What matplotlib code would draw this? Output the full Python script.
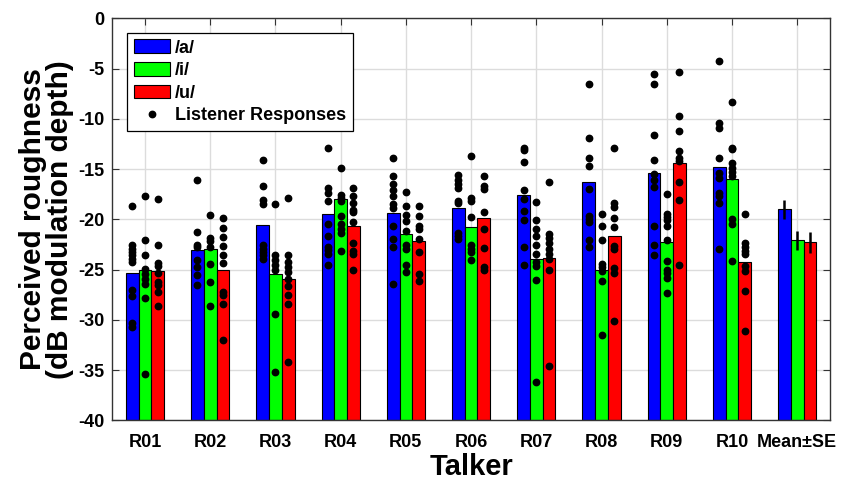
import matplotlib
matplotlib.use("Agg")
import matplotlib.pyplot as plt
from matplotlib.patches import Patch
from matplotlib.lines import Line2D
import numpy as np

plt.rcParams['font.family'] = ['Liberation Sans', 'DejaVu Sans']
plt.rcParams['font.weight'] = 'bold'
plt.rcParams['axes.unicode_minus'] = False

talkers = ['R01', 'R02', 'R03', 'R04', 'R05', 'R06', 'R07', 'R08', 'R09', 'R10', 'Mean\u00b1SE']
vowels = ['/a/', '/i/', '/u/']
colors = ['#0000ff', '#00ff00', '#ff0000']

mean_a = [-25.3, -23.0, -20.6, -19.5, -19.4, -18.9, -17.6, -16.3, -15.4, -14.8, -19.0]
mean_i = [-25.0, -22.9, -25.4, -18.0, -21.5, -20.8, -23.9, -25.0, -22.3, -16.0, -22.1]
mean_u = [-25.1, -25.0, -25.9, -20.7, -22.2, -19.9, -23.8, -21.7, -14.4, -24.2, -22.3]
se_mean = [0.95, 0.95, 1.0]

resp_a = [
    [-18.7, -22.5, -22.9, -23.2, -23.5, -23.9, -24.2, -27.0, -27.6, -30.3, -30.7],
    [-16.1, -21.3, -22.5, -22.7, -24.0, -24.7, -25.5, -26.5],
    [-14.1, -16.7, -18.1, -18.5, -22.5, -22.9, -23.2, -23.5, -23.9],
    [-12.9, -16.9, -17.4, -18.2, -20.5, -21.7, -22.7, -23.0, -23.4, -24.5],
    [-13.9, -15.7, -16.5, -17.1, -17.7, -18.5, -18.9, -20.7, -22.0, -22.7, -26.4],
    [-15.6, -16.1, -16.5, -16.9, -18.2, -18.4, -21.4, -21.7, -22.0],
    [-12.9, -13.1, -14.3, -17.1, -18.0, -19.2, -20.1, -22.7, -24.5],
    [-6.5, -11.9, -13.9, -14.7, -17.0, -19.7, -20.0, -20.3, -22.1, -22.7],
    [-5.5, -6.5, -11.6, -14.1, -15.5, -16.1, -16.8, -20.7, -22.5, -23.5],
    [-4.3, -10.4, -10.9, -13.9, -15.4, -15.9, -17.4, -17.7, -18.4, -22.9],
]
resp_i = [
    [-17.7, -22.1, -23.5, -24.9, -25.4, -25.9, -26.4, -27.8, -35.4],
    [-19.6, -21.9, -22.2, -22.7, -24.4, -26.2, -28.6],
    [-18.5, -23.5, -24.0, -24.5, -25.0, -29.4, -35.2],
    [-14.9, -17.6, -17.9, -18.2, -19.7, -20.5, -21.0, -21.4, -23.1],
    [-17.3, -18.7, -19.6, -20.2, -21.2, -22.5, -22.9, -24.5, -25.2],
    [-13.7, -17.9, -18.2, -19.8, -22.5, -22.9, -23.2, -24.0],
    [-18.3, -20.1, -21.0, -21.7, -22.5, -23.4, -24.2, -24.6, -26.0, -36.2],
    [-19.5, -20.7, -22.1, -24.4, -24.7, -25.1, -26.1, -31.5],
    [-17.5, -19.5, -19.8, -20.1, -20.7, -22.1, -24.1, -25.0, -25.3, -25.8, -27.3],
    [-8.3, -12.9, -13.0, -14.4, -14.9, -15.3, -15.7, -20.0, -20.5, -24.1],
]
resp_u = [
    [-18.0, -22.5, -24.3, -24.6, -25.3, -26.2, -26.5, -27.2, -28.6],
    [-19.9, -20.9, -21.8, -22.6, -23.5, -24.3, -27.2, -27.5, -28.4, -32.0],
    [-17.9, -23.5, -24.2, -24.7, -25.2, -25.9, -26.6, -27.5, -28.4, -34.2],
    [-16.9, -17.7, -18.4, -19.1, -19.3, -20.3, -22.4, -23.1, -23.4, -25.0],
    [-18.7, -19.7, -20.7, -21.0, -22.0, -23.2, -25.4, -26.1],
    [-15.7, -16.7, -17.0, -19.3, -21.0, -22.8, -24.7, -25.0],
    [-16.3, -21.5, -21.9, -22.4, -22.9, -23.4, -23.9, -25.0, -34.6],
    [-12.9, -18.4, -18.8, -19.9, -20.8, -22.6, -22.9, -24.8, -25.3, -30.1],
    [-5.3, -9.7, -11.2, -13.2, -13.9, -14.2, -16.3, -18.1, -24.5],
    [-19.5, -22.4, -22.7, -23.1, -23.4, -24.6, -25.1, -27.1, -31.1],
]

fig = plt.figure(figsize=(8.45, 4.8), dpi=100)
ax = fig.add_axes([0.133, 0.124, 0.849, 0.838])

x = np.arange(1, len(talkers) + 1)
width = 0.195
means = [mean_a, mean_i, mean_u]
resps = [resp_a, resp_i, resp_u]
bottom = -40
for k in range(3):
    xs = x + (k - 1) * width
    vals = np.array(means[k])
    ax.bar(xs, vals - bottom, width=width, bottom=bottom, color=colors[k],
           edgecolor='black', linewidth=0.8, zorder=2)
    for j, r in enumerate(resps[k]):
        ax.plot([xs[j]] * len(r), r, 'o', color='black', ms=4.6, zorder=3)
    ax.errorbar(xs[-1], means[k][-1], yerr=se_mean[k], fmt='none', ecolor='black',
                elinewidth=1.8, capsize=0, zorder=3)

ax.set_xlim(0.5, 11.5)
ax.set_ylim(-40, 0)
ax.set_yticks(np.arange(-40, 1, 5))
ax.set_xticks(x)
ax.set_xticklabels(talkers)
ax.grid(True, color='#dcdcdc', linewidth=1.0, zorder=0)
ax.set_axisbelow(True)
ax.tick_params(direction='in', top=True, right=True, length=5, width=0.8,
               labelsize=13, color='#333333')
ax.tick_params(axis='x', pad=10)
ax.tick_params(axis='y', pad=6)
for lbl in ax.get_xticklabels() + ax.get_yticklabels():
    lbl.set_fontweight('bold')
for s in ax.spines.values():
    s.set_color('#333333')
    s.set_linewidth(1.0)

ax.set_xlabel('Talker', fontsize=21, fontweight='bold', labelpad=1)
ax.set_ylabel('Perceived roughness\n(dB modulation depth)', fontsize=21.5,
              fontweight='bold', labelpad=3, linespacing=0.95)

handles = [Patch(facecolor=colors[k], edgecolor='black', linewidth=0.8) for k in range(3)]
handles.append(Line2D([], [], marker='o', color='black', linestyle='none', ms=4.6))
labels = vowels + ['Listener Responses']
leg = ax.legend(handles, labels, loc='upper left', bbox_to_anchor=(0.021, 0.963),
                fontsize=13, frameon=True, fancybox=False, edgecolor='black',
                framealpha=1, handlelength=2.0, handleheight=0.8, handletextpad=0.3,
                labelspacing=0.3, borderpad=0.35, borderaxespad=0)
leg.get_frame().set_linewidth(0.9)
for t in leg.get_texts():
    t.set_fontweight('bold')

fig.savefig('out.png', dpi=100)
